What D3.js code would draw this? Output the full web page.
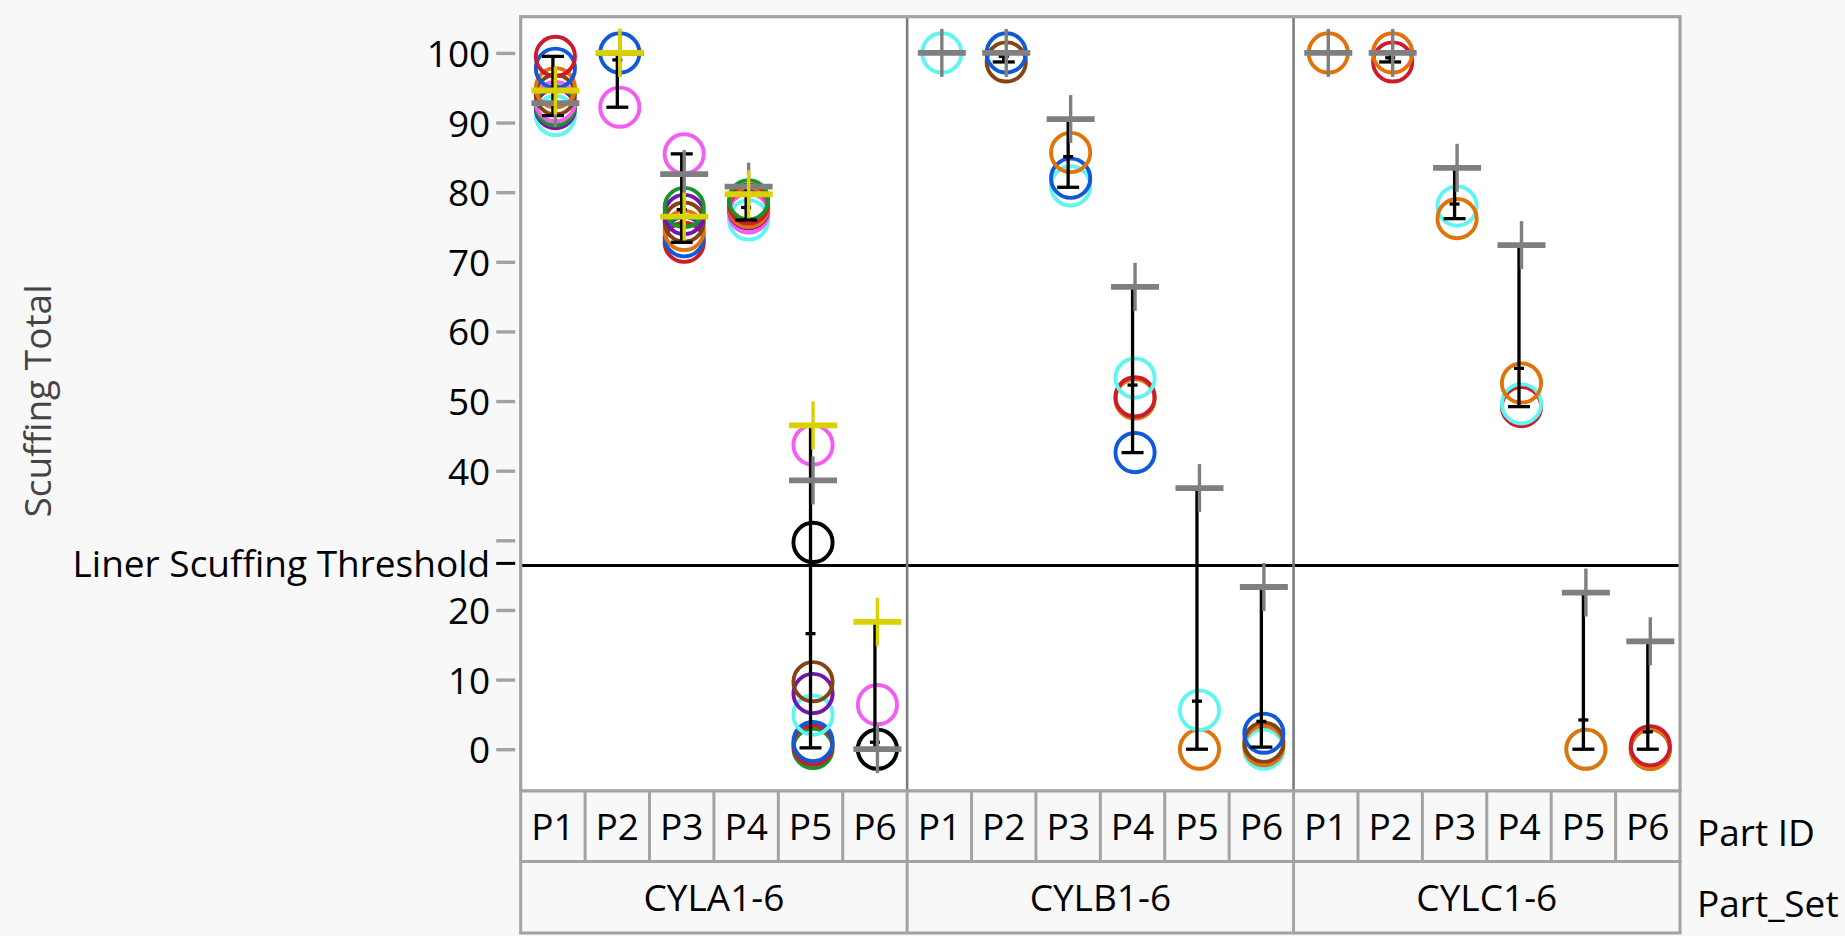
<!DOCTYPE html>
<html><head><meta charset="utf-8">
<script src="https://cdn.jsdelivr.net/npm/d3@7"></script>
<style>
html,body{margin:0;padding:0;background:#f8f8f8;}
svg{display:block;}
text{font-family:"Open Sans","Noto Sans",sans-serif;}
</style></head><body>
<svg id="chart" width="1845" height="936"></svg>
<script>
// ---------------- data ----------------
const partSets = ["CYLA1-6", "CYLB1-6", "CYLC1-6"];
const partIds = ["P1", "P2", "P3", "P4", "P5", "P6"];
const yTickValues = [0, 10, 20, 30, 40, 50, 60, 70, 80, 90, 100];
const yTickLabels = ["0", "10", "20", "", "40", "50", "60", "70", "80", "90", "100"];
const thresholdValue = 26.4;
const thresholdLabel = "Liner Scuffing Threshold";
const yTitle = "Scuffing Total";
const headerTitles = ["Part ID", "Part_Set"];

// circle markers: [part index, value, colour]
const circlesA = [
  [0, 91.0, "cyan"], [0, 92.0, "purple"], [0, 92.4, "green"], [0, 93.0, "pink"], [0, 94.0, "brown"],
  [0, 95.0, "orange"], [0, 97.8, "blue"], [0, 99.5, "red"],
  [1, 92.2, "pink"], [1, 100, "blue"],
  [2, 72.8, "red"], [2, 73.6, "blue"], [2, 74.5, "orange"], [2, 75.7, "brown"], [2, 76.8, "purple"],
  [2, 77.8, "green"], [2, 85.5, "pink"],
  [3, 76.0, "cyan"], [3, 77.0, "pink"], [3, 77.6, "purple"], [3, 77.8, "orange"], [3, 78.3, "red"], [3, 78.9, "green"],
  [4, 0.1, "green"], [4, 0.6, "red"], [4, 1.1, "blue"], [4, 4.9, "cyan"], [4, 8.0, "purple"], [4, 9.7, "brown"],
  [4, 29.7, "black"], [4, 43.7, "pink"],
  [5, 0, "cyan"], [5, 0, "black"], [5, 6.4, "pink"]
];
const circlesB = [
  [0, 100, "cyan"],
  [1, 98.7, "brown"], [1, 100, "blue"],
  [2, 80.9, "cyan"], [2, 82.0, "blue"], [2, 85.7, "orange"],
  [3, 42.6, "blue"], [3, 50.3, "orange"], [3, 50.6, "red"], [3, 53.3, "cyan"],
  [4, 0, "orange"], [4, 5.6, "cyan"],
  [5, 0, "cyan"], [5, 0.5, "orange"], [5, 1.0, "brown"], [5, 2.3, "blue"]
];
const circlesC = [
  [0, 100, "orange"],
  [1, 98.7, "red"], [1, 100, "orange"],
  [2, 78.0, "cyan"], [2, 76.2, "orange"],
  [3, 49.2, "red"], [3, 49.6, "cyan"], [3, 52.6, "orange"],
  [4, 0, "cyan"], [4, 0, "orange"],
  [5, 0, "brown"], [5, 0, "orange"], [5, 0.5, "red"]
];
// plus markers: [part index, value, colour]
const crossesA = [
  [0, 92.8, "gray"], [0, 94.6, "yellow"], [1, 100, "gray"], [1, 100, "yellow"],
  [2, 82.6, "gray"], [2, 76.5, "yellow"], [3, 80.8, "gray"], [3, 79.7, "yellow"],
  [4, 38.6, "gray"], [4, 46.5, "yellow"], [5, 0, "gray"], [5, 18.3, "yellow"]
];
const crossesB = [[0, 100, "gray"], [1, 100, "gray"], [2, 90.5, "gray"], [3, 66.4, "gray"], [4, 37.5, "gray"], [5, 23.3, "gray"]];
const crossesC = [[0, 100, "gray"], [1, 100, "gray"], [2, 83.5, "gray"], [3, 72.4, "gray"], [4, 22.5, "gray"], [5, 15.5, "gray"]];

// range bars (min / max) and cell means per part
const rangeLowA = [91.0, 92.2, 72.8, 76.0, 0.2, 0];
const rangeHighA = [99.5, 100, 85.5, 80.8, 46.5, 18.3];
const meanA = [94.8, 99.0, 77.5, 77.8, 16.6, 1.0];
const rangeLowB = [100, 98.7, 80.7, 42.6, 0, 0.3];
const rangeHighB = [100, 100, 90.5, 66.4, 37.5, 23.3];
const meanB = [100, 99.5, 85.1, 52.3, 6.9, 4.0];
const rangeLowC = [100, 98.7, 76.2, 49.2, 0, 0];
const rangeHighC = [100, 100, 83.5, 72.4, 22.5, 15.5];
const meanC = [100, 99.3, 78.3, 54.7, 4.2, 2.5];

const palette = {
  red: "#cc1b2b", blue: "#0f5ad8", orange: "#e2720a", green: "#17952b", purple: "#7615ad",
  brown: "#864312", cyan: "#5ff5f2", pink: "#f45cf4", black: "#000000", yellow: "#dbd000", gray: "#7f7f7f"
};

// ---------------- layout ----------------
const svg = d3.select("#chart");
const frame = {left: 520.7, right: 1680, top: 16.7, bottom: 791};
const headerRows = [791, 861.5, 933];
const fontSize = 37;
const markerShift = 2.5;

const y = d3.scaleLinear().domain([-6.0, 105.2]).range([frame.bottom, frame.top]);
const keys = [];
partSets.forEach(s => partIds.forEach(p => keys.push(s + "|" + p)));
const x = d3.scaleBand().domain(keys).range([frame.left, frame.right]).padding(0);
const xs = d3.scaleBand().domain(partSets).range([frame.left, frame.right]).padding(0);
const cx = (si, pi) => x(partSets[si] + "|" + partIds[pi]) + x.bandwidth() / 2;

// plot background
svg.append("rect").attr("x", frame.left).attr("y", frame.top)
  .attr("width", frame.right - frame.left).attr("height", frame.bottom - frame.top).attr("fill", "#ffffff");

// threshold line
svg.append("line").attr("x1", frame.left).attr("x2", frame.right)
  .attr("y1", y(thresholdValue)).attr("y2", y(thresholdValue))
  .attr("stroke", "#000").attr("stroke-width", 3);

// panel dividers
partSets.slice(1).forEach(s => {
  svg.append("line").attr("x1", xs(s)).attr("x2", xs(s)).attr("y1", frame.top).attr("y2", frame.bottom)
    .attr("stroke", "#7c7c7c").attr("stroke-width", 2.6);
});

// marks
const sets = [
  {circles: circlesA, crosses: crossesA, lo: rangeLowA, hi: rangeHighA, mean: meanA},
  {circles: circlesB, crosses: crossesB, lo: rangeLowB, hi: rangeHighB, mean: meanB},
  {circles: circlesC, crosses: crossesC, lo: rangeLowC, hi: rangeHighC, mean: meanC}
];
const marks = svg.append("g");
sets.forEach((S, si) => {
  // circles
  marks.append("g").selectAll("circle").data(S.circles).join("circle")
    .attr("cx", d => cx(si, d[0]) + markerShift).attr("cy", d => y(d[1])).attr("r", 19.6)
    .attr("fill", "none").attr("stroke", d => palette[d[2]]).attr("stroke-width", 3.9);
  // range bars
  const g = marks.append("g").attr("stroke", "#000").attr("stroke-width", 3.3);
  partIds.forEach((p, pi) => {
    const xc = cx(si, pi);
    g.append("line").attr("x1", xc).attr("x2", xc).attr("y1", y(S.hi[pi])).attr("y2", y(S.lo[pi]));
    [S.lo[pi], S.hi[pi]].forEach(v => g.append("line").attr("x1", xc - 11).attr("x2", xc + 11).attr("y1", y(v)).attr("y2", y(v)));
    g.append("line").attr("x1", xc - 5).attr("x2", xc + 5).attr("y1", y(S.mean[pi])).attr("y2", y(S.mean[pi]));
  });
  // plus markers
  const cg = marks.append("g");
  S.crosses.forEach(d => {
    const xc = cx(si, d[0]) + markerShift, yc = y(d[1]);
    cg.append("line").attr("x1", xc - 24).attr("x2", xc + 24).attr("y1", yc).attr("y2", yc)
      .attr("stroke", palette[d[2]]).attr("stroke-width", 5.8);
    cg.append("line").attr("x1", xc).attr("x2", xc).attr("y1", yc - 24).attr("y2", yc + 24)
      .attr("stroke", palette[d[2]]).attr("stroke-width", 3.4);
  });
});

// frame border
svg.append("rect").attr("x", frame.left).attr("y", frame.top)
  .attr("width", frame.right - frame.left).attr("height", frame.bottom - frame.top)
  .attr("fill", "none").attr("stroke", "#a3a3a3").attr("stroke-width", 3.2);

// y axis
const axis = d3.axisLeft(y).tickValues(yTickValues).tickSize(19).tickPadding(6)
  .tickFormat((d, i) => yTickLabels[i]);
const ag = svg.append("g").attr("transform", `translate(${frame.left - 5.5},0)`).call(axis);
ag.select(".domain").remove();
ag.selectAll(".tick line").attr("stroke", "#a3a3a3").attr("stroke-width", 3.4);
ag.selectAll(".tick text").attr("fill", "#000").attr("font-size", fontSize)
  .attr("font-family", '"Open Sans","Noto Sans",sans-serif').attr("dy", null).attr("y", 13.5);

// threshold tick + label
svg.append("line").attr("x1", frame.left - 24.5).attr("x2", frame.left - 5.5)
  .attr("y1", y(thresholdValue) - 2).attr("y2", y(thresholdValue) - 2).attr("stroke", "#000").attr("stroke-width", 3);
svg.append("text").attr("x", frame.left - 30.5).attr("y", y(thresholdValue) - 2 + 13.5)
  .attr("text-anchor", "end").attr("font-size", fontSize).attr("fill", "#000").text(thresholdLabel);

// y title
svg.append("text").attr("transform", `translate(51,401) rotate(-90)`)
  .attr("text-anchor", "middle").attr("font-size", fontSize).attr("fill", "#444444").text(yTitle);

// header rows
const hg = svg.append("g");
hg.append("rect").attr("x", frame.left).attr("y", headerRows[0]).attr("width", frame.right - frame.left)
  .attr("height", headerRows[2] - headerRows[0]).attr("fill", "#f8f8f8");
keys.forEach((k, i) => {
  const x0 = x(k);
  hg.append("line").attr("x1", x0).attr("x2", x0).attr("y1", headerRows[0]).attr("y2", headerRows[1])
    .attr("stroke", "#a3a3a3").attr("stroke-width", 3);
  hg.append("text").attr("x", x0 + x.bandwidth() / 2).attr("y", (headerRows[0] + headerRows[1]) / 2 + 13.5)
    .attr("text-anchor", "middle").attr("font-size", fontSize).attr("fill", "#000").text(k.split("|")[1]);
});
partSets.forEach(s => {
  hg.append("line").attr("x1", xs(s)).attr("x2", xs(s)).attr("y1", headerRows[1]).attr("y2", headerRows[2])
    .attr("stroke", "#a3a3a3").attr("stroke-width", 3);
  hg.append("text").attr("x", xs(s) + xs.bandwidth() / 2).attr("y", (headerRows[1] + headerRows[2]) / 2 + 13.5)
    .attr("text-anchor", "middle").attr("font-size", fontSize).attr("fill", "#000").text(s);
});
hg.append("line").attr("x1", frame.right).attr("x2", frame.right).attr("y1", headerRows[0]).attr("y2", headerRows[2])
  .attr("stroke", "#a3a3a3").attr("stroke-width", 3);
headerRows.forEach(yy => hg.append("line").attr("x1", frame.left - 1.5).attr("x2", frame.right + 1.5)
  .attr("y1", yy).attr("y2", yy).attr("stroke", "#a3a3a3").attr("stroke-width", 3.2));
headerTitles.forEach((t, i) => {
  hg.append("text").attr("x", 1697).attr("y", (headerRows[i] + headerRows[i + 1]) / 2 + 20)
    .attr("font-size", fontSize).attr("fill", "#000").text(t);
});
</script>
</body></html>
